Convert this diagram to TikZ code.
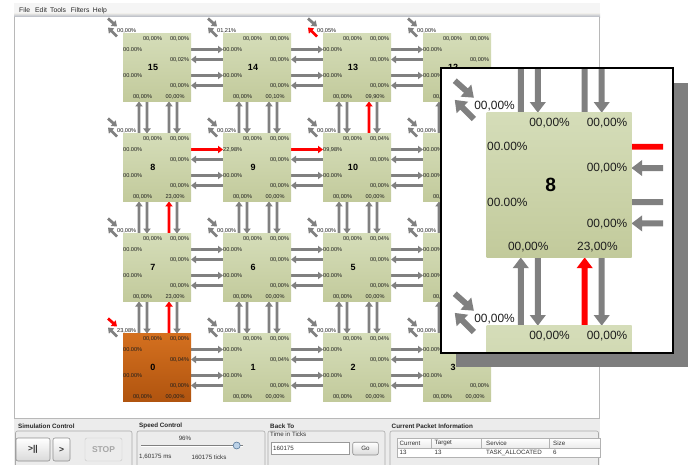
\documentclass[tikz,border=0pt]{standalone}
\usepackage{fontspec}
\setmainfont{Liberation Sans}
\definecolor{arrgray}{HTML}{808080}
\definecolor{arrred}{HTML}{FF0000}
\definecolor{tiletop}{HTML}{D5DDB9}
\definecolor{tilebot}{HTML}{C2CA9B}
\definecolor{ortop}{HTML}{D4701F}
\definecolor{orbot}{HTML}{B0540F}
\definecolor{labc}{HTML}{1E1E1E}
\definecolor{panelbg}{HTML}{ECECEC}
\definecolor{pborderc}{HTML}{A9A9A9}
\definecolor{canvasb}{HTML}{B8B8B8}
\definecolor{btnborder}{HTML}{8E8E8E}
\definecolor{btnbot}{HTML}{DADADA}
\definecolor{knobf}{HTML}{BCD2E8}
\definecolor{knobb}{HTML}{56789A}
\definecolor{shadowc}{HTML}{7E7E7E}
\newcommand\pc[2]{#1,#2\%}
\newcommand\pd[2]{#1.#2\%}
\pgfkeys{/tl/.cd,
 c/.store in=\tlC, t1/.store in=\tlTa, t2/.store in=\tlTb,
 l1/.store in=\tlLa, l2/.store in=\tlLb,
 r1/.store in=\tlRa, r2/.store in=\tlRb,
 b1/.store in=\tlBa, b2/.store in=\tlBb,
 cin/.store in=\tlCin, cout/.store in=\tlCout}
\tikzset{
 lab/.style={font=\fontsize{5.6}{6}\selectfont, inner sep=0pt, text=labc},
 num/.style={font=\fontsize{9}{10}\selectfont\bfseries, inner sep=0pt, text=black},
 greentile/.style={top color=tiletop, bottom color=tilebot},
 orangetile/.style={top color=ortop, bottom color=orbot},
 menut/.style={font=\fontsize{6.8}{7}\selectfont, inner sep=0pt, anchor=west, text=black!85},
 ptitle/.style={font=\fontsize{6.3}{7}\selectfont\bfseries, inner sep=0pt, anchor=west, text=black!85},
 ptext/.style={font=\fontsize{6.2}{7}\selectfont, inner sep=0pt, anchor=west, text=black!80},
 pbox/.style={draw=pborderc, line width=0.6pt, rounded corners=2pt},
 btn/.style={draw=btnborder, line width=0.6pt, rounded corners=2pt, top color=white, bottom color=btnbot, inner sep=0pt},
 btntext/.style={font=\fontsize{8.5}{9}\selectfont\bfseries, text=black!80},
}
% arrow polygon: #1 colour, #2 tail, #3 length, #4 angle
\newcommand\arr[4]{\fill[fill=#1, shift={#2}, rotate=#4] (0,-1.4) -- ({#3-5},-1.4) -- ({#3-5},-3.8) -- (#3,0) -- ({#3-5},3.8) -- ({#3-5},1.4) -- (0,1.4) -- cycle;}
\newcommand\hlinks[3]{%
 \begin{scope}[shift={(#1,#2)}]
  \arr{#3}{(68,16)}{32}{0}
  \arr{arrgray}{(100,26)}{32}{180}
  \arr{arrgray}{(68,42)}{32}{0}
  \arr{arrgray}{(100,52)}{32}{180}
 \end{scope}}
\newcommand\vlinks[3]{%
 \begin{scope}[shift={(#1,#2)}]
  \arr{arrgray}{(16,100)}{32}{90}
  \arr{arrgray}{(24,68)}{32}{-90}
  \arr{#3}{(46,100)}{32}{90}
  \arr{arrgray}{(54,68)}{32}{-90}
 \end{scope}}
\newcommand\setlabels[1]{\pgfkeys{/tl/.cd, c=\pc{00}{00}, t1=\pc{00}{00}, t2=\pc{00}{00}, l1=\pd{00}{00}, l2=\pd{00}{00}, r1=\pc{00}{00}, r2=\pc{00}{00}, b1=\pc{00}{00}, b2=\pc{00}{00}, cin=arrgray, cout=arrgray, #1}}
\newcommand\tile[5]{%
 \begingroup
 \setlabels{#5}%
 \begin{scope}[shift={(#1,#2)}]
  \shade[#4] (0,0) rectangle (68,68);
  \node[num] (n#3) at (30,34) {#3};
  \node[lab] (ta#3) at (29.5,5) {\tlTa};
  \node[lab] (tb#3) at (56.5,5) {\tlTb};
  \node[lab, anchor=west] (la#3) at (0,16) {\tlLa};
  \node[lab, anchor=west] (lb#3) at (0,42) {\tlLb};
  \node[lab] (ra#3) at (56.5,26) {\tlRa};
  \node[lab] (rb#3) at (56.5,52.5) {\tlRb};
  \node[lab] (ba#3) at (19.5,63) {\tlBa};
  \node[lab] (bb#3) at (52,63) {\tlBb};
  \node[lab, anchor=west] (c#3) at (-6,-3) {\tlC};
  \arr{\tlCin}{(-15,-15)}{12}{-41.6}
  \arr{\tlCout}{(-6,3)}{12.7}{135}
 \end{scope}
 \endgroup}
\newcommand\drawgrid{%
 \hlinks{123}{33.5}{arrgray}\hlinks{223}{33.5}{arrgray}\hlinks{323}{33.5}{arrgray}
 \hlinks{123}{133.5}{arrred}\hlinks{223}{133.5}{arrred}\hlinks{323}{133.5}{arrgray}
 \hlinks{123}{233.5}{arrgray}\hlinks{223}{233.5}{arrgray}\hlinks{323}{233.5}{arrgray}
 \hlinks{123}{333.5}{arrgray}\hlinks{223}{333.5}{arrgray}\hlinks{323}{333.5}{arrgray}
 \vlinks{123}{33.5}{arrgray}\vlinks{123}{133.5}{arrred}\vlinks{123}{233.5}{arrred}
 \vlinks{223}{33.5}{arrgray}\vlinks{223}{133.5}{arrgray}\vlinks{223}{233.5}{arrgray}
 \vlinks{323}{33.5}{arrred}\vlinks{323}{133.5}{arrgray}\vlinks{323}{233.5}{arrgray}
 \vlinks{423}{33.5}{arrgray}\vlinks{423}{133.5}{arrgray}\vlinks{423}{233.5}{arrgray}
 \tile{123}{33.5}{15}{greentile}{r1=\pc{00}{02}}
 \tile{223}{33.5}{14}{greentile}{c=\pc{01}{21}, b2=\pc{00}{10}}
 \tile{323}{33.5}{13}{greentile}{c=\pc{00}{05}, cout=arrred, b2=\pc{09}{90}}
 \tile{423}{33.5}{12}{greentile}{}
 \tile{123}{133.5}{8}{greentile}{b2=\pc{23}{00}}
 \tile{223}{133.5}{9}{greentile}{c=\pc{00}{02}, l1=\pc{22}{98}}
 \tile{323}{133.5}{10}{greentile}{t2=\pc{00}{04}, l1=\pc{09}{98}}
 \tile{423}{133.5}{11}{greentile}{}
 \tile{123}{233.5}{7}{greentile}{b2=\pc{23}{00}}
 \tile{223}{233.5}{6}{greentile}{}
 \tile{323}{233.5}{5}{greentile}{t2=\pc{00}{04}}
 \tile{423}{233.5}{4}{greentile}{}
 \tile{123}{333.5}{0}{orangetile}{c=\pc{23}{08}, cin=arrred, r1=\pc{00}{04}}
 \tile{223}{333.5}{1}{greentile}{r1=\pc{00}{04}}
 \tile{323}{333.5}{2}{greentile}{t2=\pc{00}{04}}
 \tile{423}{333.5}{3}{greentile}{}
}
\begin{document}
\begin{tikzpicture}[x=1pt,y=-1pt]
\useasboundingbox (0,0) rectangle (693,465);
\fill[white] (0,0) rectangle (693,465);
% menu bar
\fill[black!4] (14,3) rectangle (600,14);
\shade[top color=black!12, bottom color={rgb,255:red,168;green,173;blue,186}] (14,14) rectangle (600,17.5);
\node[menut] (mfile) at (19,10.5) {File};
\node[menut] (medit) at (35,10.5) {Edit};
\node[menut] (mtools) at (50,10.5) {Tools};
\node[menut] (mfilters) at (70.7,10.5) {Filters};
\node[menut] (mhelp) at (92.7,10.5) {Help};
% canvas
\fill[white] (14,17.5) rectangle (600,418);
\draw[canvasb, line width=0.8pt] (14.4,17.5) -- (14.4,418) -- (599.6,418) -- (599.6,17.5);
% grid
\drawgrid
% magnified view of node 8
\fill[shadowc] (456,83) rectangle (688,367);
\fill[white] (441,68) rectangle (673,353);
\begin{scope}
 \clip (441,68) rectangle (663,353);
 \begin{scope}[shift={(224.7,-171.7)}, scale=2.13, transform shape]
  \drawgrid
 \end{scope}
\end{scope}
\draw[black, line width=1.2pt] (441,68) rectangle (673,353);
% bottom panel
\fill[panelbg] (14,418.5) rectangle (600,465);
\node[ptitle] (simt) at (18,426) {Simulation Control};
\draw[pbox] (15.5,431) rectangle (132,468);
\node[btn, btntext, minimum width=34pt, minimum height=23pt] (bplay) at (33,449.5) {>||};
\node[btn, btntext, minimum width=17pt, minimum height=23pt] (bstep) at (61.5,449.5) {>};
\node[draw=black!22, fill=panelbg, rounded corners=2pt, inner sep=0pt, minimum width=37pt, minimum height=23pt, font=\fontsize{8.5}{9}\selectfont\bfseries, text=black!35] (bstop) at (103.5,449.5) {STOP};
\node[ptitle] (spdt) at (139,426) {Speed Control};
\draw[pbox] (137,431) rectangle (265,468);
\node[ptext, anchor=center] (spd) at (185,438) {96\%};
\draw[black!50, line width=0.8pt] (141,445.2) -- (243,445.2);
\draw[white, line width=0.6pt] (141,446.2) -- (243,446.2);
\node[circle, draw=knobb, fill=knobf, line width=0.6pt, inner sep=0pt, minimum size=7pt] (knob) at (236.7,445.5) {};
\node[ptext] (ms) at (139,457) {1,60175 ms};
\node[ptext, anchor=center] (ticks) at (209,457) {160175 ticks};
\node[ptitle] (backt) at (270,426) {Back To};
\draw[pbox] (268,431) rectangle (385,468);
\node[ptext] (tit) at (270,434.5) {Time in Ticks};
\node[draw=black!40, fill=white, inner sep=0pt, minimum width=78.6pt, minimum height=12pt] (field) at (310,448.5) {};
\node[ptext] (fieldtxt) at (273,448.5) {160175};
\node[btn, minimum width=25.6pt, minimum height=12.7pt, font=\fontsize{6.2}{7}\selectfont, text=black!80] (go) at (365.5,448.6) {Go};
\node[ptitle] (cpit) at (391.5,426.5) {Current Packet Information};
\draw[pbox] (390,431) rectangle (598.5,468);
\fill[white] (397,438) rectangle (600,457.5);
\shade[top color=white, bottom color=black!8] (397,438) rectangle (600,448.3);
\draw[black!30, line width=0.5pt] (397,438) rectangle (600,457.5);
\draw[black!30, line width=0.5pt] (397,448.3) -- (600,448.3);
\draw[black!30, line width=0.5pt] (431.7,438) -- (431.7,448.3) (481.7,438) -- (481.7,448.3) (549.3,438) -- (549.3,448.3);
\node[ptext] (hcur) at (399.5,443.3) {Current};
\node[ptext] (htar) at (434.5,443.3) {Target};
\node[ptext] (hser) at (486,443.3) {Service};
\node[ptext] (hsiz) at (553,443.3) {Size};
\node[ptext] (dcur) at (399.5,452.8) {13};
\node[ptext] (dtar) at (434.5,452.8) {13};
\node[ptext] (dser) at (486,452.8) {TASK\_ALLOCATED};
\node[ptext] (dsiz) at (553,452.8) {6};
\end{tikzpicture}
\end{document}
